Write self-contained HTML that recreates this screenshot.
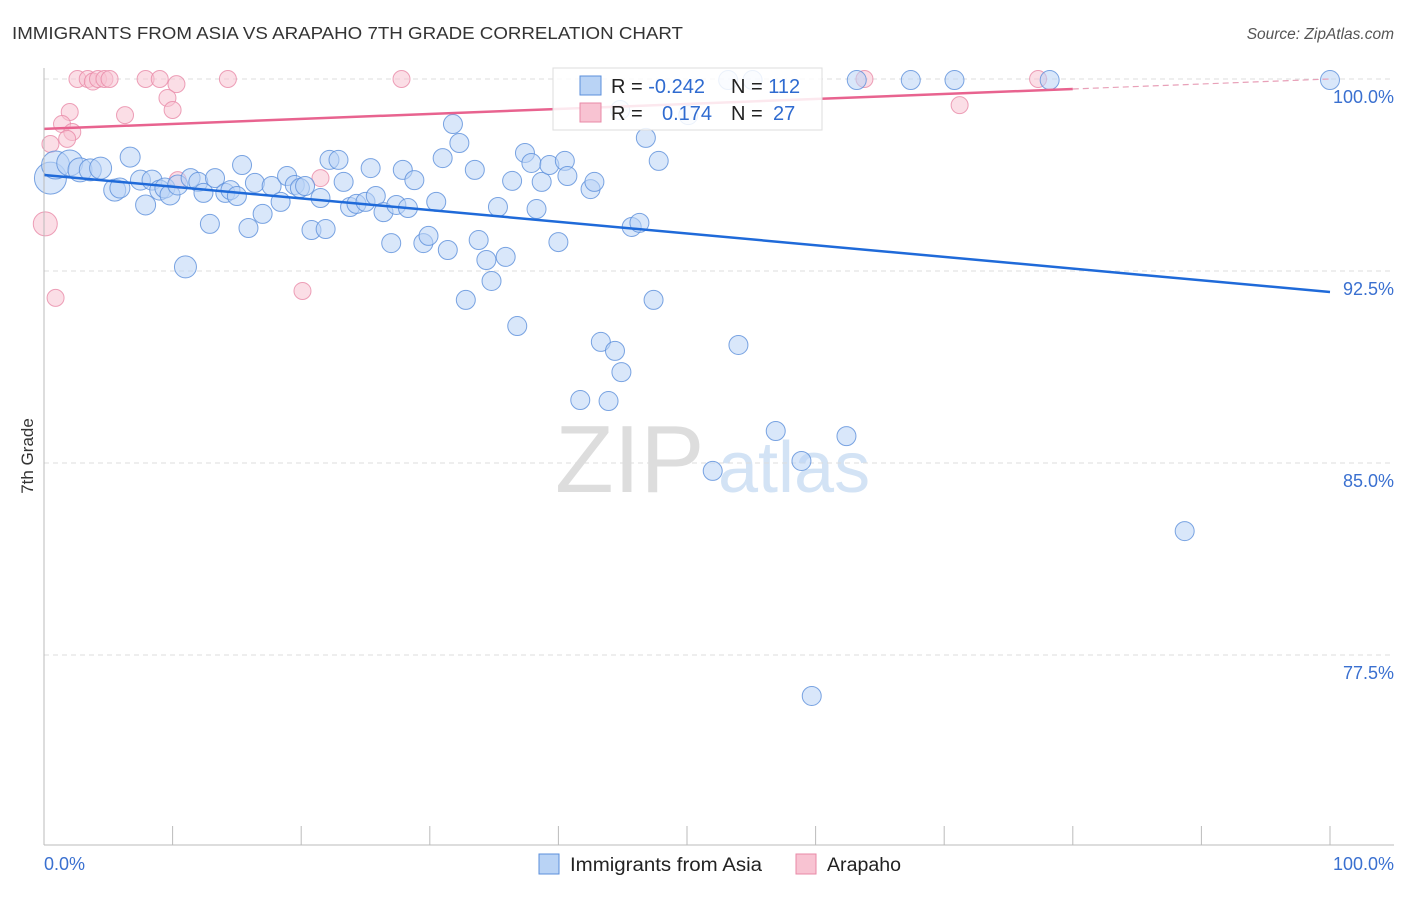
<!DOCTYPE html>
<html><head><meta charset="utf-8"><style>
body{margin:0;background:#fff;font-family:"Liberation Sans",sans-serif}
svg text{font-family:"Liberation Sans",sans-serif}
</style></head><body>
<svg id="chart" width="1406" height="892">
<text x="12" y="39" font-size="17.5" fill="#333" textLength="671" lengthAdjust="spacingAndGlyphs">IMMIGRANTS FROM ASIA VS ARAPAHO 7TH GRADE CORRELATION CHART</text>
<text x="1394" y="39" font-size="15.5" fill="#555" font-style="italic" text-anchor="end">Source: ZipAtlas.com</text>
<text x="33" y="456" font-size="17" fill="#333" transform="rotate(-90 33 456)" text-anchor="middle">7th Grade</text>
<g><text x="555" y="492" font-size="96" fill="#ddd" font-family="Liberation Serif">ZIP</text><text x="718" y="492" font-size="72" fill="#d3e3f5">atlas</text></g>
<g id="grid"></g><g id="marks"></g><g id="lines"></g>
<line x1="44" y1="68" x2="44" y2="845" stroke="#bbb"/>
<line x1="44" y1="845" x2="1394" y2="845" stroke="#bbb"/>
<g id="xticks"></g>
<text x="44" y="870" font-size="18" fill="#3a70d0">0.0%</text>
<text x="1394" y="870" font-size="18" fill="#3a70d0" text-anchor="end">100.0%</text>
<g>
<rect x="553" y="68" width="269" height="62" fill="#fff" fill-opacity="0.85" stroke="#ddd"/>
<rect x="580" y="76" width="21" height="19" fill="#b9d3f5" stroke="#5b8fdb"/>
<rect x="580" y="103" width="21" height="19" fill="#f8c3d2" stroke="#e88aa7"/>
<text x="611" y="93" font-size="20" fill="#222">R = <tspan fill="#2f6bd0">-0.242</tspan><tspan x="731">N = </tspan><tspan fill="#2f6bd0">112</tspan></text>
<text x="611" y="120" font-size="20" fill="#222">R = <tspan x="662" fill="#2f6bd0">0.174</tspan><tspan x="731">N = </tspan><tspan x="773" fill="#2f6bd0">27</tspan></text>
</g>
<g>
<rect x="539" y="854" width="20" height="20" fill="#b9d3f5" stroke="#5b8fdb"/>
<text x="570" y="871" font-size="19" fill="#222" textLength="192" lengthAdjust="spacingAndGlyphs">Immigrants from Asia</text>
<rect x="796" y="854" width="20" height="20" fill="#f8c3d2" stroke="#e88aa7"/>
<text x="827" y="871" font-size="19" fill="#222" textLength="74" lengthAdjust="spacingAndGlyphs">Arapaho</text>
</g>
</svg>
<script>
const yTicks=[100,92.5,85,77.5];
const yTickLabels=["100.0%","92.5%","85.0%","77.5%"];
const xTicks=[0,10,20,30,40,50,60,70,80,90,100];
const asiaX=[0.5,0.9,2.0,2.8,3.6,4.4,5.5,5.9,6.7,7.5,7.9,8.4,9.0,9.4,9.8,10.4,11.0,11.4,12.0,12.4,12.9,13.3,14.1,14.5,15.0,15.4,15.9,16.4,17.0,17.7,18.4,18.9,19.5,19.9,20.3,20.8,21.5,21.9,22.2,22.9,23.3,23.8,24.3,25.0,25.4,25.8,26.4,27.0,27.4,27.9,28.3,28.8,29.5,29.9,30.5,31.0,31.4,31.8,32.3,32.8,33.5,33.8,34.4,34.8,35.3,35.9,36.4,36.8,37.4,37.9,38.3,38.7,39.3,40.0,40.5,40.7,41.7,42.5,42.8,43.3,43.9,44.4,44.9,45.7,46.3,46.8,47.4,47.8,50.1,52.0,53.2,54.0,55.1,56.9,58.9,62.4,63.2,67.4,70.8,78.2,88.7,100,59.7,44.8];
const asiaY=[96.13,96.64,96.72,96.45,96.45,96.52,95.66,95.74,96.95,96.05,95.08,96.05,95.66,95.74,95.47,95.86,92.66,96.13,95.98,95.55,94.34,96.13,95.55,95.66,95.43,96.64,94.18,95.94,94.73,95.82,95.2,96.21,95.86,95.74,95.82,94.1,95.35,94.14,96.84,96.84,95.98,95.0,95.12,95.2,96.52,95.43,94.8,93.59,95.08,96.45,94.96,96.05,93.59,93.87,95.2,96.91,93.32,98.24,97.5,91.37,96.45,93.71,92.93,92.11,95.0,93.05,96.02,90.35,97.11,96.72,94.92,95.98,96.64,93.63,96.8,96.21,87.46,95.7,95.98,89.73,87.42,89.38,88.55,94.22,94.38,97.7,91.37,96.8,98.59,84.69,99.96,89.61,99.96,86.25,85.08,86.05,99.96,99.96,99.96,99.96,82.34,99.96,75.9,98.79];
const asiaSize=[16,14,13,12,11,11,11,10,10,10,10,10,10,10,10,10,11];
const arapahoX=[2.6,3.4,3.8,4.2,4.7,5.1,7.9,9.0,10.3,9.6,10.0,6.3,14.3,27.8,2.0,1.4,2.2,1.8,0.5,0.1,0.9,21.5,20.1,10.4,63.8,77.3,71.2];
const arapahoY=[100,100,99.9,100,100,100,100,100,99.8,99.26,98.79,98.59,100,100,98.71,98.24,97.93,97.66,97.46,94.34,91.45,96.13,91.72,96.05,100,100,98.98];
const arapahoSize=[8.5,8.5,8.5,8.5,8.5,8.5,8.5,8.5,8.5,8.5,8.5,8.5,8.5,8.5,8.5,8.5,8.5,8.5,8.5,12,8.5];
const asiaTrend=[96.25,91.68];
const arapahoTrend=[98.05,100];
const NS="http://www.w3.org/2000/svg";
function xs(v){return 44+v*12.86;}
function ys(v){return 79+(100-v)*25.6;}
function mk(t,a,p){const e=document.createElementNS(NS,t);for(const k in a)e.setAttribute(k,a[k]);p.appendChild(e);return e;}
const grid=document.getElementById('grid');
yTicks.forEach((t,i)=>{
 const l=mk('line',{x1:44,x2:1394,y1:ys(t),y2:ys(t),stroke:'#ddd','stroke-dasharray':'5,4'},grid);
 
 
 const tx=mk('text',{x:1394,y:ys(t)+24,'font-size':18,fill:'#3a70d0','text-anchor':'end'},grid);
 tx.textContent=yTickLabels[i];
 
 
});
const xt=document.getElementById('xticks');
xTicks.forEach(t=>{
 const l=mk('line',{x1:xs(t),x2:xs(t),y1:826,y2:845,stroke:'#bbb'},xt);
 
 
});
const marks=document.getElementById('marks');
arapahoX.forEach((x,i)=>{
 const c=mk('circle',{cx:xs(x),cy:ys(arapahoY[i]),r:arapahoSize[i]||8.5,fill:'#f8c3d2','fill-opacity':0.55,stroke:'#e88aa7','stroke-opacity':0.8},marks);
 
 
});
asiaX.forEach((x,i)=>{
 const c=mk('circle',{cx:xs(x),cy:ys(asiaY[i]),r:asiaSize[i]||9.5,fill:'#b9d3f5','fill-opacity':0.55,stroke:'#5b8fdb','stroke-opacity':0.8},marks);
 
 
});
const lines=document.getElementById('lines');
const bl=mk('line',{x1:xs(0),y1:ys(asiaTrend[0]),x2:xs(100),y2:ys(asiaTrend[1]),stroke:'#1f6ad9','stroke-width':2.5},lines);


const f=0.8;
const pm=arapahoTrend[0]+(arapahoTrend[1]-arapahoTrend[0])*f;
const pl=mk('line',{x1:xs(0),y1:ys(arapahoTrend[0]),x2:xs(100*f),y2:ys(pm),stroke:'#e8638f','stroke-width':2.5},lines);


const pd=mk('line',{x1:xs(100*f),y1:ys(pm),x2:xs(100),y2:ys(arapahoTrend[1]),stroke:'#e8a0b8','stroke-width':1.2,'stroke-dasharray':'6,4'},lines);


</script>
</body></html>
